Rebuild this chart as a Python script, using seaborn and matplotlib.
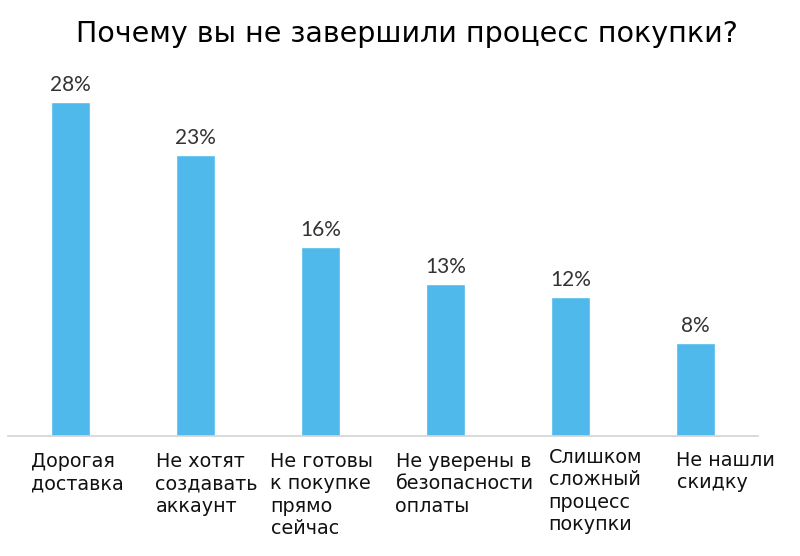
import matplotlib
matplotlib.use("Agg")
import matplotlib.pyplot as plt
import seaborn as sns
import pandas as pd

# data (bar heights, labels as printed)
categories = [
    "Дорогая\nдоставка",
    "Не хотят\nсоздавать\nаккаунт",
    "Не готовы\nк покупке\nпрямо\nсейчас",
    "Не уверены в\nбезопасности\nоплаты",
    "Слишком\nсложный\nпроцесс\nпокупки",
    "Не нашли\nскидку",
]
values = [28.3, 23.8, 16.0, 12.9, 11.8, 7.9]
value_labels = ["28%", "23%", "16%", "13%", "12%", "8%"]
title = "Почему вы не завершили процесс покупки?"

# layout tweaks for the category labels (pixels, relative to bar centre / axis line)
label_dx = [-40, -40, -50, -50, -22, -19]
label_dy = [-16, -16, -16, -16, -12, -15]

df = pd.DataFrame({"cat": categories, "val": values})

sns.set_theme(style="white")
plt.rcParams["font.family"] = ["DejaVu Sans"]

fig = plt.figure(figsize=(8, 5.56), dpi=100)
ax = fig.add_axes([0.01, 0.2158, 0.9375, 0.676])

sns.barplot(data=df, x="cat", y="val", color="#4FB9EC", saturation=1,
            width=0.312, ax=ax)

ax.set_xlim(-0.5, 5.5)
ax.set_ylim(0, 31.86)
ax.set_xlabel("")
ax.set_ylabel("")
ax.set_xticks([])
ax.set_yticks([])
for side in ["top", "left", "right"]:
    ax.spines[side].set_visible(False)
ax.spines["bottom"].set_color("#D3D3D3")
ax.spines["bottom"].set_linewidth(1.2)

# value labels
for i, (v, s) in enumerate(zip(values, value_labels)):
    ax.annotate(s, xy=(i, v), xytext=(0, 11), textcoords="offset pixels",
                ha="center", va="baseline", fontsize=15, color="#333333",
                family=["Lato", "DejaVu Sans"])

# category labels
for i, c in enumerate(categories):
    ax.annotate(c, xy=(i, 0), xytext=(label_dx[i], label_dy[i]),
                textcoords="offset pixels", ha="left", va="top",
                fontsize=13.8, color="#111111", linespacing=1.22,
                annotation_clip=False)

fig.text(0.509, 1 - 42 / 556, title, ha="center", va="baseline",
         fontsize=20.5, color="#000000")

fig.savefig("out.png", dpi=100)
